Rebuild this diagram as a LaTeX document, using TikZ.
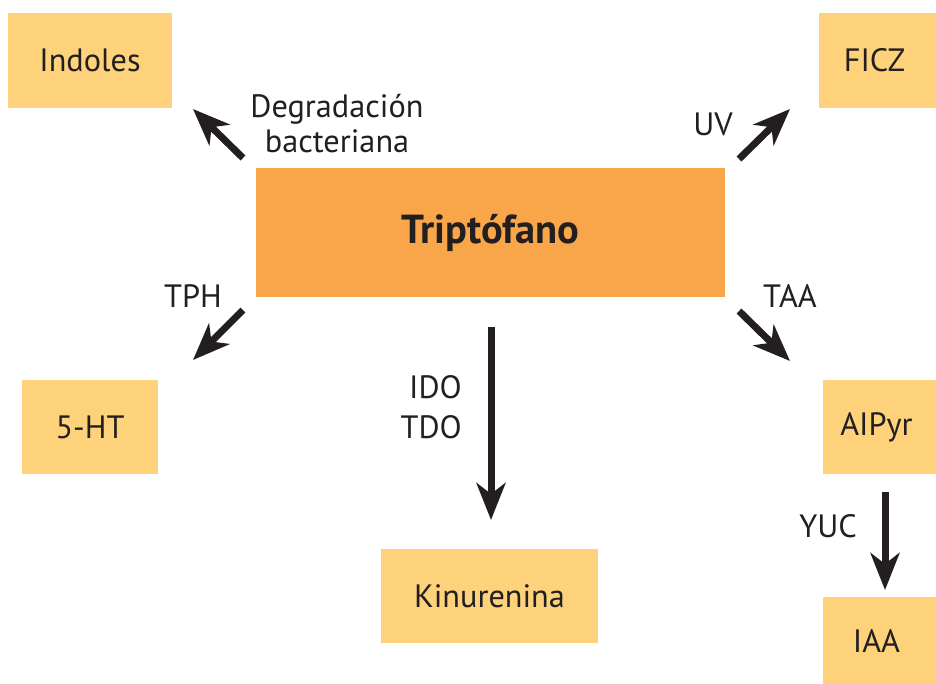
\documentclass[tikz,border=0pt]{standalone}
\usepackage{fontspec}
\setmainfont{PT Sans}
\usetikzlibrary{arrows.meta}
\definecolor{boxlight}{HTML}{FDD27A}
\definecolor{boxmain}{HTML}{F9A64A}
\definecolor{ink}{HTML}{231F20}
\tikzset{
  product/.style={fill=boxlight, draw=none, inner sep=0pt, text=ink,
    font=\fontsize{32.3}{36}\selectfont},
  pathlabel/.style={text=ink, inner sep=0pt, font=\fontsize{32.3}{35}\selectfont},
  route/.style={draw=ink, line width=7pt,
    -{Stealth[length=37pt,width=29pt,inset=11pt]}}
}
\begin{document}
\begin{tikzpicture}[x=1pt,y=-1pt]
  \useasboundingbox (0,0) rectangle (936,683);

  % central substrate
  \node[fill=boxmain, inner sep=0pt, minimum width=469pt, minimum height=129pt,
        text=ink, font=\fontsize{40.5}{44}\selectfont\bfseries] (trp) at (490.5,232.5) {Triptófano};

  % products
  \node[product, minimum width=164pt, minimum height=95pt] (indoles) at (90,60.5) {Indoles};
  \node[product, minimum width=117pt, minimum height=95pt] (ficz) at (877.5,60.5) {\hspace*{-6pt}FICZ};
  \node[product, minimum width=136pt, minimum height=94pt] (ht) at (90,427) {5-HT};
  \node[product, minimum width=113pt, minimum height=94pt] (aipyr) at (879.5,427) {\hspace*{-6pt}AIPyr};
  \node[product, minimum width=217pt, minimum height=94pt] (kyn) at (489.5,596) {Kinurenina};
  \node[product, minimum width=113pt, minimum height=88pt] (iaa) at (879.5,641) {\hspace*{-6pt}IAA};

  % arrow end points
  \coordinate (dgS) at (243,158);  \coordinate (dgE) at (193,109);
  \coordinate (uvS) at (739,159);  \coordinate (uvE) at (790,109);
  \coordinate (tpS) at (243,310);  \coordinate (tpE) at (193,360);
  \coordinate (taS) at (739,311);  \coordinate (taE) at (790,361);
  \coordinate (idS) at (491,327);  \coordinate (idE) at (491,520);
  \coordinate (yuS) at (885,492);  \coordinate (yuE) at (885,590);

  \draw[route] (dgS) -- (dgE);
  \draw[route] (uvS) -- (uvE);
  \draw[route] (tpS) -- (tpE);
  \draw[route] (taS) -- (taE);
  \draw[route] (idS) -- (idE);
  \draw[route] (yuS) -- (yuE);

  % enzyme / process labels (base anchor sits on the last line)
  \node[pathlabel, anchor=base, align=center] (deg) at (337,152)
    {Degradación\\bacteriana};
  \node[pathlabel, anchor=base east] (uv) at (733,135) {UV};
  \node[pathlabel, anchor=base east] (tph) at (222,307) {TPH};
  \node[pathlabel, anchor=base west] (taa) at (763,307) {TAA};
  \node[pathlabel, anchor=base east, align=right] (ido) at (462,438) {IDO\\[5pt]TDO};
  \node[pathlabel, anchor=base east] (yuc) at (857,537) {YUC};
\end{tikzpicture}
\end{document}
